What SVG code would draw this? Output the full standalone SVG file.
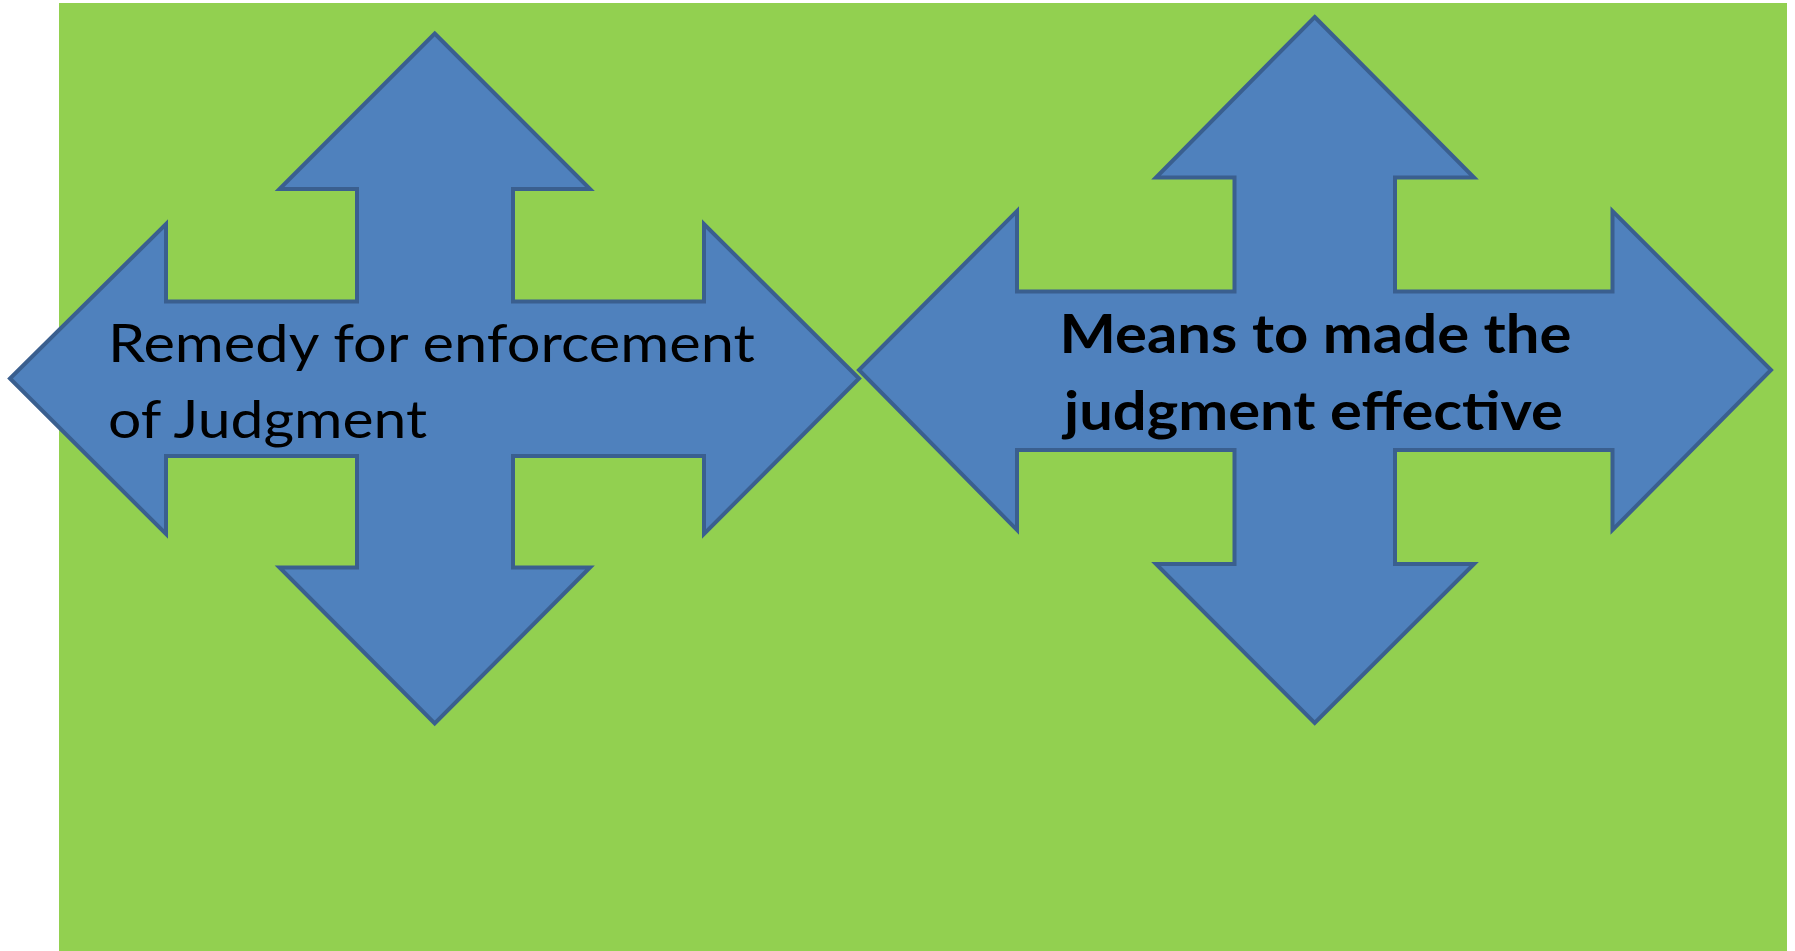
<svg xmlns="http://www.w3.org/2000/svg" width="1795" height="951" viewBox="0 0 1795 951">
<style>
.arrow{fill:#4f81bd;stroke:#3a5f8f;stroke-width:4;stroke-linejoin:miter}
.lbl{font-family:Lato,"Open Sans","Liberation Sans",sans-serif;fill:#000}
.bold{font-weight:bold}
</style>
<rect x="0" y="0" width="1795" height="951" fill="#ffffff"/>
<rect x="59" y="3" width="1728" height="948" fill="#92d050"/>
<g id="node-left">
<polygon class="arrow" points="434.7,33.5 590,189 513,189 513,301.5 704,301.5 704,224 859,378.5 704,534 704,456 513,456 513,567.5 590,567.5 434.7,723.5 279.5,567.5 357,567.5 357,456 166,456 166,534 10,378.5 166,224 166,301.5 357,301.5 357,189 279.5,189"/>
<text class="lbl" font-size="52" x="108" y="362" textLength="647" lengthAdjust="spacingAndGlyphs">Remedy for enforcement</text>
<text class="lbl" font-size="52" x="108" y="438" textLength="319" lengthAdjust="spacingAndGlyphs">of Judgment</text>
</g>
<g id="node-right">
<polygon class="arrow" points="1314.7,17 1474,177.5 1395,177.5 1395,291.5 1612.5,291.5 1612.5,211 1771,370 1612.5,530 1612.5,450 1395,450 1395,564 1474,564 1314.7,723 1156,564 1234.5,564 1234.5,450 1017,450 1017,530 859,370 1017,211 1017,291.5 1234.5,291.5 1234.5,177.5 1156,177.5"/>
<text class="lbl bold" font-size="53" x="1059.5" y="353" textLength="512" lengthAdjust="spacingAndGlyphs">Means to made the</text>
<text class="lbl bold" font-size="53" x="1064" y="430" textLength="499" lengthAdjust="spacingAndGlyphs">judgment effective</text>
</g>
<g id="connectors"></g>
</svg>
